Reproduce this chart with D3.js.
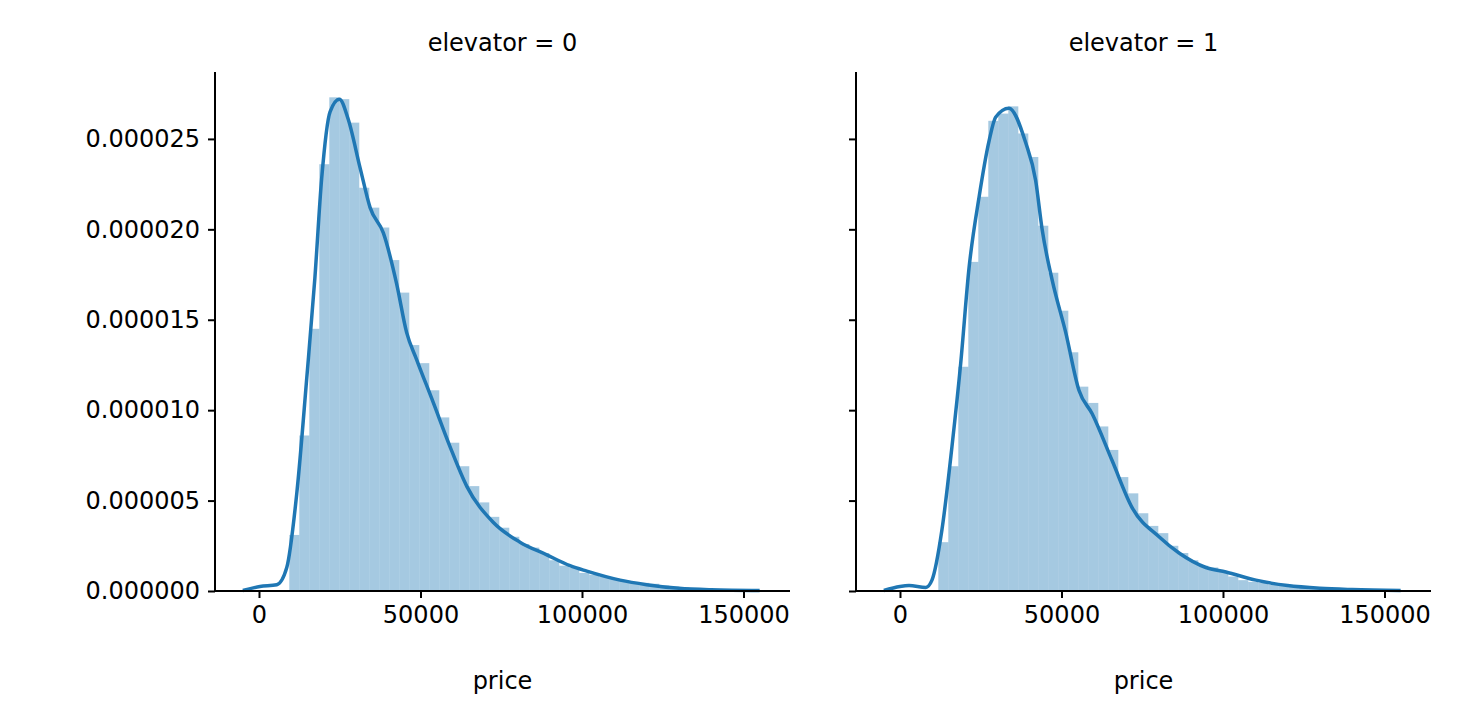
<!DOCTYPE html>
<meta charset="utf-8">
<title>price by elevator</title>
<script src="https://d3js.org/d3.v7.min.js"></script>
<style>body{margin:0;background:#fff} text{font-family:"DejaVu Sans"}</style>
<body></body>
<script>
// histogram bins (density, x1e-6), bin width ~3096
var binWidth = 3096;
var bins0Start = 9380;
var bars0 = [3.1, 8.6, 14.5, 23.6, 27.3, 27.2, 25.9, 22.3, 21.2, 20.1, 18.3, 16.5, 13.6, 12.6, 11.1, 9.6, 8.2, 6.9, 5.8, 4.9,
  4.1, 3.5, 3.0, 2.6, 2.4, 2.1, 1.7, 1.4, 1.3, 1.0, 0.9, 0.8, 0.7, 0.6, 0.5, 0.45, 0.4, 0.3, 0.25, 0.2, 0.15, 0.12, 0.1, 0.08, 0.06, 0.05];
var bins1Start = 11860;
var bars1 = [2.7, 6.9, 12.4, 18.2, 21.8, 26.0, 26.4, 26.8, 25.3, 24.0, 20.2, 17.6, 15.5, 13.2, 11.3, 10.4, 9.1, 7.8, 6.3, 5.4,
  4.3, 3.6, 3.2, 2.5, 2.1, 1.7, 1.4, 1.3, 1.05, 0.8, 0.6, 0.5, 0.45, 0.35, 0.3, 0.25, 0.2, 0.15, 0.12, 0.1, 0.08, 0.06, 0.05, 0.04];
// KDE curve points [price, density x1e-6]
var kde0 = [[-5000,0.03],[300,0.25],[5500,0.35],[8600,1.3],[11700,5.4],[14800,11.8],[17300,17.3],[19400,22.8],[22000,26.5],
  [24900,27.2],[27600,26.1],[31300,23.4],[34400,21.2],[38500,19.8],[42600,17.0],[45700,14.3],[48800,12.8],[54000,10.4],
  [59100,8.0],[64300,5.8],[72500,3.8],[80800,2.7],[89100,2.0],[96300,1.4],[101500,1.1],[111800,0.6],[120000,0.35],
  [130000,0.15],[140000,0.07],[155000,0.03]];
var kde1 = [[-5000,0.03],[0,0.25],[2800,0.3],[8000,0.2],[9900,0.6],[13000,3.4],[16100,8.0],[18800,12.6],[21400,17.9],
  [24500,21.8],[27600,24.9],[29600,26.2],[33700,26.7],[38900,24.8],[42000,22.7],[44000,20.0],[47100,17.2],[51300,14.3],
  [55400,11.1],[59500,9.8],[65700,7.2],[71900,4.6],[80200,3.0],[86400,2.1],[94700,1.3],[100900,1.05],[110200,0.6],
  [120000,0.3],[130000,0.15],[140000,0.08],[155000,0.03]];
var panels = [
  {title: "elevator = 0", start: bins0Start, bars: bars0, kde: kde0, left: 215},
  {title: "elevator = 1", start: bins1Start, bars: bars1, kde: kde1, left: 856}
];
var xTicks = [0, 50000, 100000, 150000];
var yTicks = [0, 5, 10, 15, 20, 25];

var W = 1479, H = 722, pw = 575, plotTop = 72, plotBottom = 591;
var blue = "#1f77b4";
var svg = d3.select("body").append("svg").attr("width", W).attr("height", H);

var y = d3.scaleLinear().domain([0, 28.7]).range([plotBottom, plotTop]);

panels.forEach(function (p, i) {
  var x = d3.scaleLinear().domain([-13620, 164400]).range([p.left, p.left + pw]);
  var g = svg.append("g");
  g.selectAll("rect").data(p.bars).enter().append("rect")
    .attr("x", function (d, j) { return x(p.start + j * binWidth); })
    .attr("width", function (d, j) { return x(p.start + (j + 1) * binWidth) - x(p.start + j * binWidth); })
    .attr("y", function (d) { return y(d); })
    .attr("height", function (d) { return plotBottom - y(d); })
    .attr("fill", blue).attr("fill-opacity", 0.4);
  g.append("path").datum(p.kde)
    .attr("d", d3.line().curve(d3.curveMonotoneX)
      .x(function (d) { return x(d[0]); }).y(function (d) { return y(d[1]); }))
    .attr("fill", "none").attr("stroke", blue).attr("stroke-width", 3.5);

  var xa = g.append("g").attr("transform", "translate(0," + plotBottom + ")")
    .call(d3.axisBottom(x).tickValues(xTicks).tickFormat(d3.format("d")).tickSize(7).tickPadding(8));
  var ya = g.append("g").attr("transform", "translate(" + p.left + ",0)")
    .call(d3.axisLeft(y).tickValues(yTicks).tickSize(7).tickPadding(8)
      .tickFormat(i === 0 ? function (d) { return (d * 1e-6).toFixed(6); } : ""));
  [xa, ya].forEach(function (a) {
    a.select(".domain").attr("stroke-width", 2).attr("d",
      a === xa ? "M" + p.left + ",0H" + (p.left + pw) : "M0," + plotTop + "V" + plotBottom);
    a.selectAll(".tick line").attr("stroke-width", 2);
    a.selectAll("text").attr("font-size", 24).attr("fill", "#000");
  });
  g.append("text").attr("x", p.left + pw / 2).attr("y", 689).attr("text-anchor", "middle")
    .attr("font-size", 24).text("price");
  g.append("text").attr("x", p.left + pw / 2).attr("y", 51).attr("text-anchor", "middle")
    .attr("font-size", 24).text(p.title);
});
</script>
